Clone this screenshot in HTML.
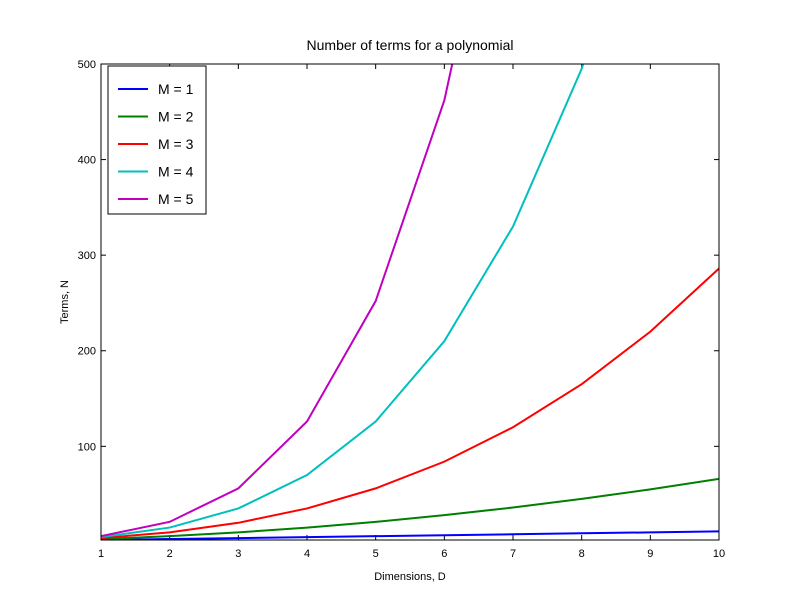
<!DOCTYPE html>
<html><head><meta charset="utf-8"><style>
body{margin:0;background:#fff;}
svg{display:block;font-family:"Liberation Sans",sans-serif;}
</style></head><body>
<svg id="chart" width="800" height="600">
<rect x="0" y="0" width="800" height="600" fill="#fff"/>
<text x="410" y="50" font-size="14" text-anchor="middle">Number of terms for a polynomial</text>
<text x="410" y="580" font-size="11" text-anchor="middle">Dimensions, D</text>
<text x="0" y="0" font-size="11" text-anchor="middle" transform="translate(68,302) rotate(-90)">Terms, N</text>
<defs><clipPath id="clip"><rect x="101" y="64" width="618" height="476"/></clipPath></defs>
<g id="ticks"></g>
<g id="lines" clip-path="url(#clip)"></g>
<rect x="101" y="64" width="618" height="476" fill="none" stroke="#000"/>
<g id="legend"></g>
</svg>
<script>
const dims=[1,2,3,4,5,6,7,8,9,10];
const m1=[2,3,4,5,6,7,8,9,10,11];
const m2=[3,6,10,15,21,28,36,45,55,66];
const m3=[4,10,20,35,56,84,120,165,220,286];
const m4=[5,15,35,70,126,210,330,495,715,1001];
const m5=[6,21,56,126,252,462,792,1287,2002,3003];
const seriesLabels=["M = 1","M = 2","M = 3","M = 4","M = 5"];
const colors=["#0000ff","#007f00","#ff0000","#00bfbf","#bf00bf"];
const xTicks=[1,2,3,4,5,6,7,8,9,10];
const yTicks=[100,200,300,400,500];
const X0=101,X1=719,Y0=540,Y1=64,xmin=1,xmax=10,ymin=2,ymax=500;
const sx=v=>X0+(v-xmin)/(xmax-xmin)*(X1-X0);
const sy=v=>Y0-(v-ymin)/(ymax-ymin)*(Y0-Y1);
const NS="http://www.w3.org/2000/svg";
const mk=(t,a)=>{const e=document.createElementNS(NS,t);for(const k in a)e.setAttribute(k,a[k]);return e;};
const tg=document.getElementById('ticks');
xTicks.forEach(v=>{const x=sx(v);
 tg.appendChild(mk('line',{x1:x,y1:Y0,x2:x,y2:Y0-5,stroke:'#000'}));
 tg.appendChild(mk('line',{x1:x,y1:Y1,x2:x,y2:Y1+5,stroke:'#000'}));
 const t=mk('text',{x:x,y:Y0+17,'font-size':11,'text-anchor':'middle'});t.textContent=v;
 
 
 tg.appendChild(t);});
yTicks.forEach(v=>{const y=sy(v);
 tg.appendChild(mk('line',{x1:X0,y1:y,x2:X0+5,y2:y,stroke:'#000'}));
 tg.appendChild(mk('line',{x1:X1,y1:y,x2:X1-5,y2:y,stroke:'#000'}));
 const t=mk('text',{x:X0-5,y:y+4,'font-size':11,'text-anchor':'end'});t.textContent=v;
 
 
 tg.appendChild(t);});
const lg=document.getElementById('lines');
[m1,m2,m3,m4,m5].forEach((s,i)=>{
 const p=mk('polyline',{points:s.map((v,j)=>sx(dims[j])+','+sy(v)).join(' '),fill:'none',stroke:colors[i],'stroke-width':2});
 
 
 lg.appendChild(p);});
const leg=document.getElementById('legend');
leg.appendChild(mk('rect',{x:108,y:66,width:98,height:148,fill:'#fff',stroke:'#000'}));
seriesLabels.forEach((l,i)=>{const y=89+i*27.5;
 leg.appendChild(mk('line',{x1:118,y1:y,x2:148,y2:y,stroke:colors[i],'stroke-width':2}));
 const t=mk('text',{x:158,y:y+5,'font-size':14});t.textContent=l;
 
 
 leg.appendChild(t);});
</script>
</body></html>
